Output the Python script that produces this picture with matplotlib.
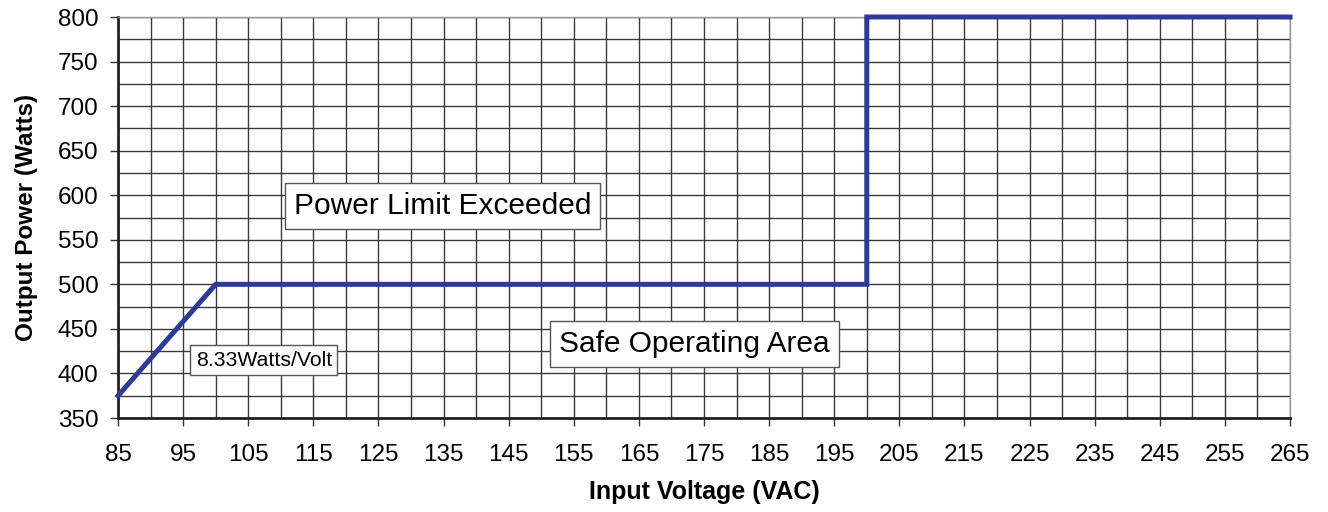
import matplotlib
matplotlib.use("Agg")
import matplotlib.pyplot as plt
import numpy as np

plt.rcParams['font.family'] = ['Liberation Sans', 'DejaVu Sans']

voltage = [85, 100, 200, 200, 265]
power = [375, 500, 500, 800, 800]
x_ticks = list(range(85, 266, 10))
y_ticks = list(range(350, 801, 50))

fig = plt.figure(figsize=(13.28, 5.12), dpi=100)
ax = fig.add_axes([118/1328, 1 - 418/512, (1290-118)/1328, (418-17)/512])

ax.set_xlim(85, 265)
ax.set_ylim(350, 800)
ax.set_xticks(x_ticks)
ax.set_yticks(y_ticks)
ax.set_xticks(np.arange(85, 266, 5), minor=True)
ax.set_yticks(np.arange(350, 801, 25), minor=True)
ax.grid(True, which='both', color='#3a3a3a', linewidth=1.0)
ax.tick_params(which='minor', length=0)
ax.tick_params(which='major', length=6, width=1, color='#333333', labelsize=17.5)
ax.tick_params(axis='x', which='major', pad=13)
ax.tick_params(axis='y', which='major', pad=8)
ax.set_axisbelow(True)

for s in ['left', 'bottom']:
    ax.spines[s].set_linewidth(2)
    ax.spines[s].set_color('#222222')
for s in ['top', 'right']:
    ax.spines[s].set_linewidth(1)
    ax.spines[s].set_color('#999999')

ax.plot(voltage, power, color='#2e3a9a', linewidth=3.6, solid_joinstyle='miter', clip_on=False, zorder=5)

ax.set_xlabel('Input Voltage (VAC)', fontsize=18, fontweight='bold', labelpad=10)
ax.set_ylabel('Output Power (Watts)', fontsize=17.5, fontweight='bold', labelpad=14)

box = dict(boxstyle='square,pad=0.3', facecolor='white', edgecolor='#555555', linewidth=1)
ax.text(134.8, 588, 'Power Limit Exceeded', fontsize=21.5, ha='center', va='center', bbox=box, zorder=6)
ax.text(173.5, 433, 'Safe Operating Area', fontsize=21.5, ha='center', va='center', bbox=box, zorder=6)
box2 = dict(boxstyle='square,pad=0.25', facecolor='white', edgecolor='#555555', linewidth=1)
ax.text(107.4, 415, '8.33Watts/Volt', fontsize=15.3, ha='center', va='center', bbox=box2, zorder=6)

fig.savefig('out.png', dpi=100)
